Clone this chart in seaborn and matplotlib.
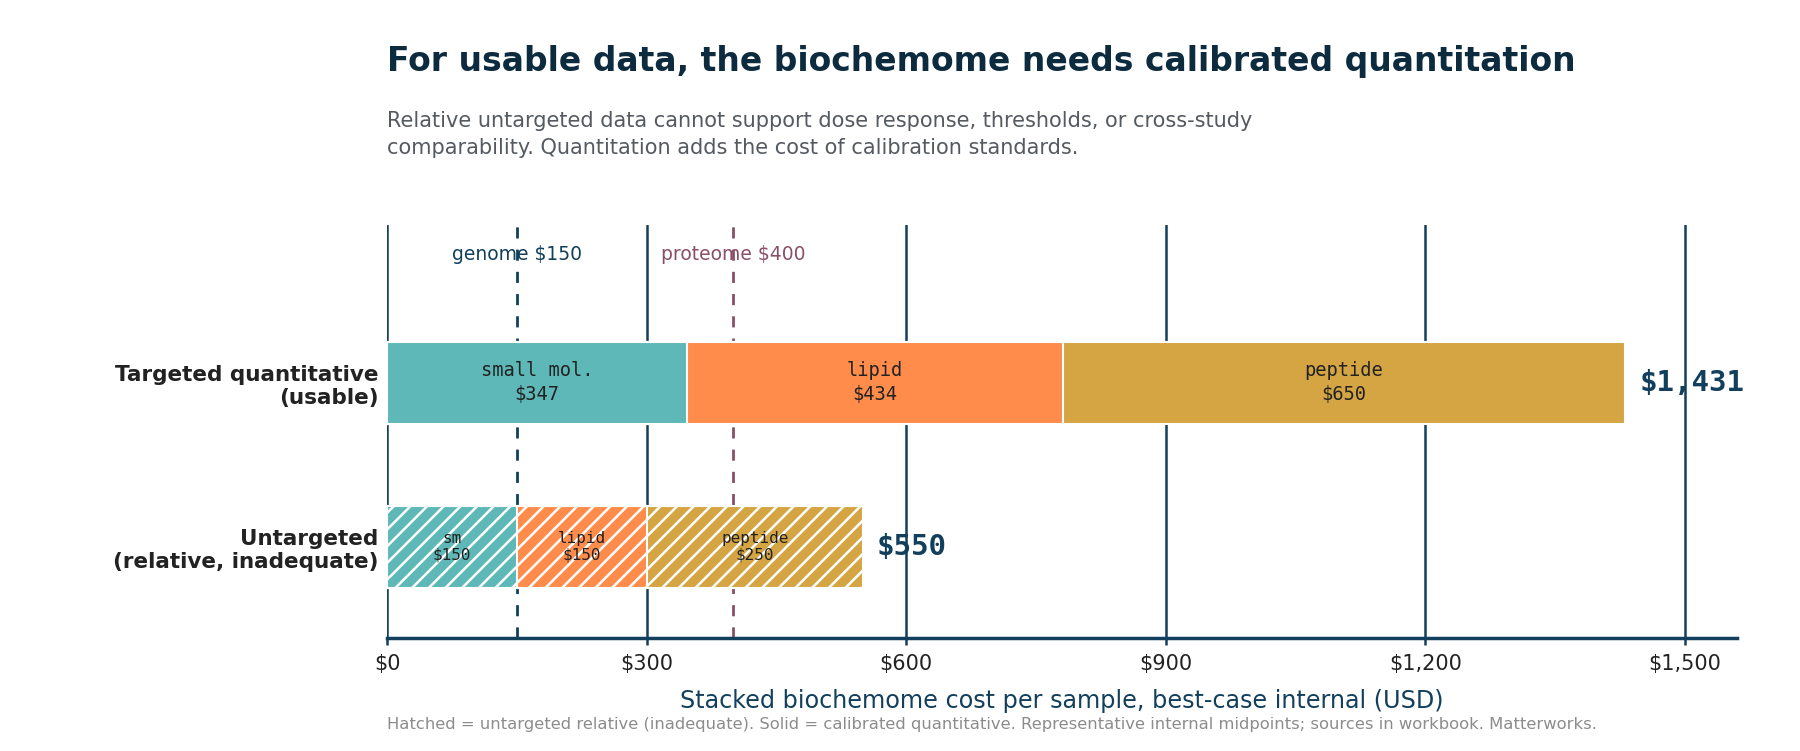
import matplotlib
matplotlib.use("Agg")
from matplotlib import pyplot as plt
import pandas as pd
import seaborn as sns

# Chart data
assays = ["Targeted quantitative\n(usable)", "Untargeted\n(relative, inadequate)"]
components = ["small molecule", "lipid", "peptide"]
targeted_costs = [347, 434, 650]
untargeted_costs = [150, 150, 250]
targeted_labels = ["small mol.", "lipid", "peptide"]
untargeted_labels = ["sm", "lipid", "peptide"]
total_labels = ["$1,431", "$550"]
ref_names = ["genome", "proteome"]
ref_costs = [150, 400]
x_ticks = [0, 300, 600, 900, 1200, 1500]

colors = ["#5eb8b8", "#ff8c4b", "#d4a542"]
navy = "#123f5c"
title_color = "#0d2b3e"
ref_colors = [navy, "#8a4f68"]

sns.set_theme(style="white")
plt.rcParams["font.family"] = ["DejaVu Sans"]
plt.rcParams["hatch.color"] = "white"
plt.rcParams["hatch.linewidth"] = 1.8

# Long table with cumulative ends so that shorter bars cover longer ones
rows = []
for assay, costs, labels in [(assays[0], targeted_costs, targeted_labels),
                             (assays[1], untargeted_costs, untargeted_labels)]:
    start = 0
    for comp, cost, lab in zip(components, costs, labels):
        rows.append({"assay": assay, "component": comp, "cost": cost,
                     "start": start, "end": start + cost, "label": lab})
        start += cost
df = pd.DataFrame(rows)

fig = plt.figure(figsize=(18, 7.51), dpi=100)
ax = fig.add_axes([0.215, 0.15, 0.75, 0.55])

# Reference lines behind bars
for name, cost, col in zip(ref_names, ref_costs, ref_colors):
    ax.axvline(cost, color=col, linestyle=(0, (4, 4)), linewidth=2, zorder=1)
    ax.text(cost, -0.78, f"{name} ${cost}", color=col, fontsize=13.5,
            ha="center", va="center", zorder=4)

# Stacked bars: draw from the longest cumulative segment to the shortest
for i in reversed(range(len(components))):
    for assay in assays:
        sub = df[(df["assay"] == assay) & (df["component"] == components[i])]
        hatch = "//" if assay == assays[1] else None
        sns.barplot(data=sub, x="end", y="assay", order=assays, orient="h",
                    color=colors[i], saturation=1, width=0.5,
                    edgecolor="white", linewidth=1.5, hatch=hatch, ax=ax,
                    zorder=2)

# Segment labels
for _, r in df.iterrows():
    yi = assays.index(r["assay"])
    fs = 13.5 if yi == 0 else 11.5
    ls = 1.3 if yi == 0 else 1.15
    ax.text(r["start"] + r["cost"] / 2, yi, f"{r['label']}\n${r['cost']}",
            family="DejaVu Sans Mono", fontsize=fs, color="#222222",
            ha="center", va="center", zorder=5, linespacing=ls)

# Totals
totals = df.groupby("assay", sort=False)["end"].max()
for yi, (assay, lab) in enumerate(zip(assays, total_labels)):
    ax.text(totals[assay] + 16, yi, lab, family="DejaVu Sans Mono",
            fontweight="bold", fontsize=21, color=navy, ha="left",
            va="center", zorder=5)

ax.set_xlim(0, 1560)
ax.set_ylim(1.56, -0.96)
ax.set_xticks(x_ticks)
ax.set_xticklabels([f"${v:,}" for v in x_ticks], fontsize=15, color="#222222")
ax.grid(axis="x", color=navy, linewidth=1.8, zorder=0)
ax.grid(axis="y", visible=False)
ax.set_axisbelow(True)
ax.tick_params(axis="x", bottom=True, length=5, width=1.8, color=navy, pad=6)
ax.tick_params(axis="y", left=False, length=0, pad=6)
for lab in ax.get_yticklabels():
    lab.set_fontweight("bold")
    lab.set_fontsize(15.5)
    lab.set_color("#222222")
    lab.set_ha("right")
for side in ["top", "right", "left"]:
    ax.spines[side].set_visible(False)
ax.spines["bottom"].set_color(navy)
ax.spines["bottom"].set_linewidth(2.5)
ax.set_ylabel("")
ax.set_xlabel("Stacked biochemome cost per sample, best-case internal (USD)",
              fontsize=17.2, color=navy, labelpad=11)

fig.text(0.215, 0.905, "For usable data, the biochemome needs calibrated quantitation",
         fontsize=23.8, fontweight="bold", color=title_color, va="baseline")
fig.text(0.215, 0.852, "Relative untargeted data cannot support dose response, thresholds, or cross-study\n"
         "comparability. Quantitation adds the cost of calibration standards.",
         fontsize=15, color="#555a60", va="top", linespacing=1.42)
fig.text(0.215, 0.029, "Hatched = untargeted relative (inadequate). Solid = calibrated quantitative. "
         "Representative internal midpoints; sources in workbook. Matterworks.",
         fontsize=11.8, color="#8c8c8c", va="baseline")

fig.savefig("out.png", dpi=100)
